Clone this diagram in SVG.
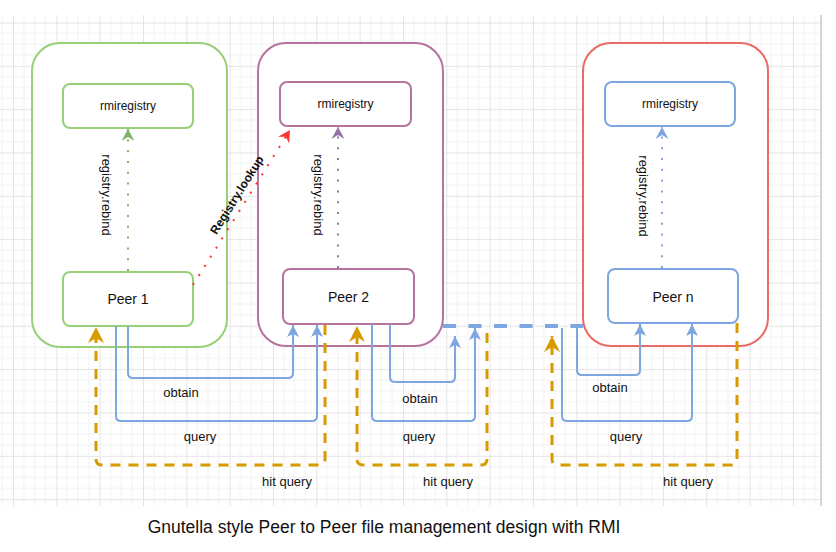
<svg xmlns="http://www.w3.org/2000/svg" width="836" height="552" viewBox="0 0 836 552">
<style>
.box{fill:#fff;stroke-width:2}
.t{font-family:"Liberation Sans",Arial,sans-serif;fill:#111}
.reg{font-size:12px}
.peer{font-size:14px}
.lbl{font-size:13px}
.blue{fill:none;stroke:#7EA6E0;stroke-width:2}
.orange{fill:none;stroke:#D79B00;stroke-width:3;stroke-dasharray:10 8}
.dot{fill:none;stroke-width:2;stroke-dasharray:2 8.8}
</style>
<defs>
<pattern id="grid" x="13" y="22.5" width="43.33" height="43.33" patternUnits="userSpaceOnUse">
<path d="M10.83,0V43.33M21.67,0V43.33M32.5,0V43.33M0,10.83H43.33M0,21.67H43.33M0,32.5H43.33" stroke="#f2f2f2" stroke-width="1" fill="none"/>
<path d="M0.5,0V43.33M0,0.5H43.33" stroke="#e4e4e4" stroke-width="1" fill="none"/>
</pattern>
<marker id="aBlue" viewBox="-13 -7 14 14" refX="0" refY="0" markerWidth="14" markerHeight="14" markerUnits="userSpaceOnUse" orient="auto"><path d="M0,0 L-12,-6 L-9,0 L-12,6 Z" fill="#7EA6E0"/></marker>
<marker id="aOrange" viewBox="-17 -9 18 18" refX="0" refY="0" markerWidth="18" markerHeight="18" markerUnits="userSpaceOnUse" orient="auto"><path d="M0,0 L-16,-8 L-11,0 L-16,8 Z" fill="#D79B00"/></marker>
<marker id="aGreen" viewBox="-13 -7 14 14" refX="0" refY="0" markerWidth="14" markerHeight="14" markerUnits="userSpaceOnUse" orient="auto"><path d="M0,0 L-12,-6.5 L-8,0 L-12,6.5 Z" fill="#82B366"/></marker>
<marker id="aPurple" viewBox="-13 -7 14 14" refX="0" refY="0" markerWidth="14" markerHeight="14" markerUnits="userSpaceOnUse" orient="auto"><path d="M0,0 L-12,-6.5 L-8,0 L-12,6.5 Z" fill="#9673A6"/></marker>
<marker id="aBlueDot" viewBox="-13 -7 14 14" refX="0" refY="0" markerWidth="14" markerHeight="14" markerUnits="userSpaceOnUse" orient="auto"><path d="M0,0 L-12,-6.5 L-8,0 L-12,6.5 Z" fill="#7EA6E0"/></marker>
<marker id="aRed" viewBox="-13 -7 14 14" refX="0" refY="0" markerWidth="14" markerHeight="14" markerUnits="userSpaceOnUse" orient="auto"><path d="M0,0 L-12,-6.5 L-8,0 L-12,6.5 Z" fill="#FF3333"/></marker>
</defs>
<rect x="0" y="0" width="836" height="552" fill="#fff"/>
<rect x="0" y="15" width="820" height="491" fill="url(#grid)"/>
<rect x="820" y="15" width="2" height="491" fill="#d6d6d6"/>

<g id="container1"><rect class="box" x="32" y="43" width="195" height="304" rx="28" stroke="#97D077"/></g>
<g id="container2"><rect class="box" x="258" y="43" width="185" height="303" rx="28" stroke="#B5739D"/></g>
<g id="containerN"><rect class="box" x="583" y="43" width="185" height="303" rx="28" stroke="#EA6B66"/></g>

<g id="rmi1"><rect class="box" x="63" y="84" width="130" height="44" rx="7" stroke="#97D077"/><text class="t reg" x="128" y="110" text-anchor="middle">rmiregistry</text></g>
<g id="peer1"><rect class="box" x="63" y="272" width="130" height="54" rx="7" stroke="#97D077"/><text class="t peer" x="128" y="304" text-anchor="middle">Peer 1</text></g>
<g id="rmi2"><rect class="box" x="280" y="82" width="131" height="44" rx="7" stroke="#B5739D"/><text class="t reg" x="345.5" y="108" text-anchor="middle">rmiregistry</text></g>
<g id="peer2"><rect class="box" x="283" y="269" width="131" height="55" rx="7" stroke="#B5739D"/><text class="t peer" x="348.5" y="302" text-anchor="middle">Peer 2</text></g>
<g id="rmiN"><rect class="box" x="605" y="82" width="130" height="44" rx="7" stroke="#7EA6E0"/><text class="t reg" x="670" y="108" text-anchor="middle">rmiregistry</text></g>
<g id="peerN"><rect class="box" x="608" y="269" width="130" height="54" rx="7" stroke="#7EA6E0"/><text class="t peer" x="673" y="302" text-anchor="middle">Peer n</text></g>

<g id="connectors">
<path class="dot" d="M128,271 V129" stroke="#82B366" marker-end="url(#aGreen)"/>
<path class="dot" d="M338,268 V127" stroke="#9673A6" marker-end="url(#aPurple)"/>
<path class="dot" d="M662,268 V127" stroke="#7EA6E0" marker-end="url(#aBlueDot)"/>
<path class="dot" d="M193,285 L290,130" stroke="#FF3333" marker-end="url(#aRed)"/>

<path d="M443,326 H583" fill="none" stroke="#7EA6E0" stroke-width="4" stroke-dasharray="13 12.5"/>

<path class="blue" d="M128,326 V373 Q128,378 133,378 H288 Q293,378 293,373 V325" marker-end="url(#aBlue)"/>
<path class="blue" d="M116,326 V416 Q116,421 121,421 H312 Q317,421 317,416 V325" marker-end="url(#aBlue)"/>
<path class="blue" d="M390,324 V377 Q390,382 395,382 H450 Q455,382 455,377 V336" marker-end="url(#aBlue)"/>
<path class="blue" d="M372,324 V416 Q372,421 377,421 H470 Q475,421 475,416 V328" marker-end="url(#aBlue)"/>
<path class="blue" d="M577,324 V370 Q577,375 582,375 H635 Q640,375 640,370 V324" marker-end="url(#aBlue)"/>
<path class="blue" d="M562,328 V416 Q562,421 567,421 H687 Q692,421 692,416 V324" marker-end="url(#aBlue)"/>

<path class="orange" d="M325,325 V459 Q325,465 319,465 H102 Q96,465 96,459 V327" marker-end="url(#aOrange)"/>
<path class="orange" d="M487,333 V459 Q487,465 481,465 H363 Q357,465 357,459 V326" marker-end="url(#aOrange)"/>
<path class="orange" d="M737,323 V459 Q737,465 731,465 H558 Q552,465 552,459 V336" marker-end="url(#aOrange)"/>

<text class="t lbl" x="106" y="195" text-anchor="middle" dominant-baseline="central" transform="rotate(90 106 195)">registry.rebind</text>
<text class="t lbl" x="318" y="195" text-anchor="middle" dominant-baseline="central" transform="rotate(90 318 195)">registry.rebind</text>
<text class="t lbl" x="643" y="196" text-anchor="middle" dominant-baseline="central" transform="rotate(90 643 196)">registry.rebind</text>
<text class="t" x="237" y="195" font-size="12" font-weight="bold" text-anchor="middle" dominant-baseline="central" transform="rotate(-58 237 195)">Registry.lookup</text>

<text class="t lbl" x="181" y="397" text-anchor="middle">obtain</text>
<text class="t lbl" x="200" y="441" text-anchor="middle">query</text>
<text class="t lbl" x="287" y="486" text-anchor="middle">hit query</text>
<text class="t lbl" x="420" y="403" text-anchor="middle">obtain</text>
<text class="t lbl" x="419" y="441" text-anchor="middle">query</text>
<text class="t lbl" x="448" y="486" text-anchor="middle">hit query</text>
<text class="t lbl" x="610" y="392" text-anchor="middle">obtain</text>
<text class="t lbl" x="626" y="441" text-anchor="middle">query</text>
<text class="t lbl" x="688" y="486" text-anchor="middle">hit query</text>
</g>

<text class="t" x="384" y="533" font-size="17.5" text-anchor="middle">Gnutella style Peer to Peer file management design with RMI</text>
</svg>
